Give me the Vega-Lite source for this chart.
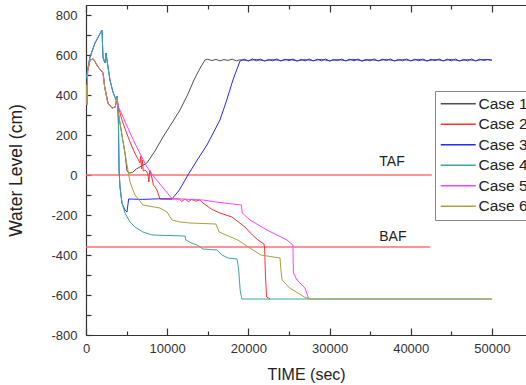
{
  "$schema": "https://vega.github.io/schema/vega-lite/v6.json",
  "autosize": {"type": "none"},
  "width": 440,
  "height": 330,
  "padding": {"left": 86, "top": 5, "right": 0, "bottom": 50},
  "background": "white",
  "config": {
    "view": {"stroke": null},
    "font": "Liberation Sans",
    "axis": {"labelFont": "Liberation Sans", "titleFont": "Liberation Sans", "labelColor": "#333", "titleColor": "#222", "domainColor": "#333", "tickColor": "#333", "labelFontSize": 13, "titleFontSize": 16, "titleFontWeight": "normal", "grid": false, "domainWidth": 1.2, "tickWidth": 1.2},
    "legend": {"labelFont": "Liberation Sans"}
  },
  "datasets": {
    "cases": [
      {"c":"Case 1","t":0,"v":380},{"c":"Case 1","t":60,"v":450},{"c":"Case 1","t":120,"v":350},{"c":"Case 1","t":200,"v":520},{"c":"Case 1","t":500,"v":575},{"c":"Case 1","t":900,"v":580},{"c":"Case 1","t":1500,"v":540},{"c":"Case 1","t":2100,"v":510},{"c":"Case 1","t":2300,"v":440},{"c":"Case 1","t":2700,"v":360},{"c":"Case 1","t":3200,"v":335},{"c":"Case 1","t":3600,"v":340},{"c":"Case 1","t":3800,"v":385},{"c":"Case 1","t":3950,"v":325},{"c":"Case 1","t":4100,"v":280},{"c":"Case 1","t":4800,"v":110},{"c":"Case 1","t":5050,"v":20},{"c":"Case 1","t":5300,"v":10},{"c":"Case 1","t":5700,"v":12},{"c":"Case 1","t":6200,"v":30},{"c":"Case 1","t":7500,"v":60},{"c":"Case 1","t":8500,"v":120},{"c":"Case 1","t":9480,"v":190},{"c":"Case 1","t":10500,"v":255},{"c":"Case 1","t":11580,"v":325},{"c":"Case 1","t":12500,"v":400},{"c":"Case 1","t":13300,"v":475},{"c":"Case 1","t":14000,"v":530},{"c":"Case 1","t":14650,"v":575},{"c":"Case 1","t":15000,"v":579},{"c":"Case 1","t":15500,"v":572},{"c":"Case 1","t":16000,"v":578},{"c":"Case 1","t":16500,"v":571},{"c":"Case 1","t":17000,"v":577},{"c":"Case 1","t":17500,"v":573},{"c":"Case 1","t":18000,"v":579},{"c":"Case 1","t":18500,"v":571},{"c":"Case 1","t":19000,"v":576},{"c":"Case 1","t":20000,"v":572},{"c":"Case 1","t":21000,"v":578},{"c":"Case 1","t":22000,"v":571},{"c":"Case 1","t":23000,"v":577},{"c":"Case 1","t":24000,"v":572},{"c":"Case 1","t":25000,"v":578},{"c":"Case 1","t":26000,"v":571},{"c":"Case 1","t":27000,"v":577},{"c":"Case 1","t":28000,"v":572},{"c":"Case 1","t":29000,"v":578},{"c":"Case 1","t":30000,"v":571},{"c":"Case 1","t":31000,"v":577},{"c":"Case 1","t":32000,"v":572},{"c":"Case 1","t":33000,"v":578},{"c":"Case 1","t":34000,"v":571},{"c":"Case 1","t":35000,"v":577},{"c":"Case 1","t":36000,"v":572},{"c":"Case 1","t":37000,"v":578},{"c":"Case 1","t":38000,"v":571},{"c":"Case 1","t":39000,"v":577},{"c":"Case 1","t":40000,"v":572},{"c":"Case 1","t":41000,"v":578},{"c":"Case 1","t":42000,"v":571},{"c":"Case 1","t":43000,"v":577},{"c":"Case 1","t":44000,"v":572},{"c":"Case 1","t":45000,"v":578},{"c":"Case 1","t":46000,"v":571},{"c":"Case 1","t":47000,"v":577},{"c":"Case 1","t":48000,"v":572},{"c":"Case 1","t":49000,"v":578},{"c":"Case 1","t":50000,"v":574},

      {"c":"Case 2","t":0,"v":380},{"c":"Case 2","t":60,"v":450},{"c":"Case 2","t":120,"v":350},{"c":"Case 2","t":200,"v":520},{"c":"Case 2","t":500,"v":575},{"c":"Case 2","t":900,"v":580},{"c":"Case 2","t":1500,"v":540},{"c":"Case 2","t":2100,"v":510},{"c":"Case 2","t":2300,"v":440},{"c":"Case 2","t":2700,"v":360},{"c":"Case 2","t":3200,"v":335},{"c":"Case 2","t":3600,"v":340},{"c":"Case 2","t":3800,"v":385},{"c":"Case 2","t":3950,"v":345},{"c":"Case 2","t":4430,"v":275},{"c":"Case 2","t":5000,"v":210},{"c":"Case 2","t":5420,"v":165},{"c":"Case 2","t":6000,"v":110},{"c":"Case 2","t":6400,"v":80},{"c":"Case 2","t":6650,"v":60},{"c":"Case 2","t":6750,"v":95},{"c":"Case 2","t":6850,"v":30},{"c":"Case 2","t":6950,"v":75},{"c":"Case 2","t":7050,"v":20},{"c":"Case 2","t":7270,"v":25},{"c":"Case 2","t":7600,"v":10},{"c":"Case 2","t":7750,"v":-35},{"c":"Case 2","t":7850,"v":25},{"c":"Case 2","t":8130,"v":-15},{"c":"Case 2","t":8300,"v":-50},{"c":"Case 2","t":8500,"v":-60},{"c":"Case 2","t":8740,"v":-75},{"c":"Case 2","t":9110,"v":-120},{"c":"Case 2","t":11500,"v":-120},{"c":"Case 2","t":11800,"v":-132},{"c":"Case 2","t":12200,"v":-120},{"c":"Case 2","t":12600,"v":-133},{"c":"Case 2","t":13000,"v":-122},{"c":"Case 2","t":13500,"v":-131},{"c":"Case 2","t":14000,"v":-124},{"c":"Case 2","t":14410,"v":-140},{"c":"Case 2","t":15500,"v":-172},{"c":"Case 2","t":16500,"v":-190},{"c":"Case 2","t":17980,"v":-210},{"c":"Case 2","t":19580,"v":-260},{"c":"Case 2","t":20500,"v":-300},{"c":"Case 2","t":21180,"v":-325},{"c":"Case 2","t":21920,"v":-345},{"c":"Case 2","t":22000,"v":-360},{"c":"Case 2","t":22100,"v":-500},{"c":"Case 2","t":22250,"v":-610},{"c":"Case 2","t":22700,"v":-620},

      {"c":"Case 3","t":0,"v":480},{"c":"Case 3","t":490,"v":590},{"c":"Case 3","t":1110,"v":660},{"c":"Case 3","t":1970,"v":725},{"c":"Case 3","t":2100,"v":585},{"c":"Case 3","t":2340,"v":560},{"c":"Case 3","t":2460,"v":610},{"c":"Case 3","t":2950,"v":475},{"c":"Case 3","t":3320,"v":415},{"c":"Case 3","t":3700,"v":375},{"c":"Case 3","t":3850,"v":395},{"c":"Case 3","t":3940,"v":330},{"c":"Case 3","t":4000,"v":250},{"c":"Case 3","t":4070,"v":25},{"c":"Case 3","t":4190,"v":-60},{"c":"Case 3","t":4430,"v":-140},{"c":"Case 3","t":4800,"v":-175},{"c":"Case 3","t":5050,"v":-185},{"c":"Case 3","t":5250,"v":-120},{"c":"Case 3","t":7000,"v":-122},{"c":"Case 3","t":9000,"v":-119},{"c":"Case 3","t":10590,"v":-120},{"c":"Case 3","t":11500,"v":-75},{"c":"Case 3","t":12560,"v":0},{"c":"Case 3","t":13700,"v":75},{"c":"Case 3","t":14900,"v":150},{"c":"Case 3","t":16500,"v":275},{"c":"Case 3","t":17300,"v":370},{"c":"Case 3","t":18100,"v":475},{"c":"Case 3","t":18970,"v":570},{"c":"Case 3","t":19500,"v":579},{"c":"Case 3","t":20000,"v":570},{"c":"Case 3","t":20500,"v":580},{"c":"Case 3","t":21000,"v":571},{"c":"Case 3","t":21500,"v":579},{"c":"Case 3","t":22000,"v":570},{"c":"Case 3","t":22500,"v":578},{"c":"Case 3","t":23000,"v":571},{"c":"Case 3","t":23500,"v":580},{"c":"Case 3","t":24000,"v":570},{"c":"Case 3","t":24500,"v":579},{"c":"Case 3","t":25000,"v":572},{"c":"Case 3","t":25500,"v":580},{"c":"Case 3","t":26000,"v":570},{"c":"Case 3","t":26500,"v":578},{"c":"Case 3","t":27000,"v":571},{"c":"Case 3","t":27500,"v":580},{"c":"Case 3","t":28000,"v":570},{"c":"Case 3","t":28500,"v":579},{"c":"Case 3","t":29000,"v":571},{"c":"Case 3","t":29500,"v":580},{"c":"Case 3","t":30000,"v":570},{"c":"Case 3","t":30500,"v":578},{"c":"Case 3","t":31000,"v":572},{"c":"Case 3","t":31500,"v":580},{"c":"Case 3","t":32000,"v":570},{"c":"Case 3","t":32500,"v":579},{"c":"Case 3","t":33000,"v":571},{"c":"Case 3","t":33500,"v":580},{"c":"Case 3","t":34000,"v":570},{"c":"Case 3","t":34500,"v":578},{"c":"Case 3","t":35000,"v":571},{"c":"Case 3","t":35500,"v":580},{"c":"Case 3","t":36000,"v":570},{"c":"Case 3","t":36500,"v":579},{"c":"Case 3","t":37000,"v":572},{"c":"Case 3","t":37500,"v":580},{"c":"Case 3","t":38000,"v":570},{"c":"Case 3","t":38500,"v":578},{"c":"Case 3","t":39000,"v":571},{"c":"Case 3","t":39500,"v":580},{"c":"Case 3","t":40000,"v":570},{"c":"Case 3","t":40500,"v":579},{"c":"Case 3","t":41000,"v":571},{"c":"Case 3","t":41500,"v":580},{"c":"Case 3","t":42000,"v":570},{"c":"Case 3","t":42500,"v":578},{"c":"Case 3","t":43000,"v":572},{"c":"Case 3","t":43500,"v":580},{"c":"Case 3","t":44000,"v":570},{"c":"Case 3","t":44500,"v":579},{"c":"Case 3","t":45000,"v":571},{"c":"Case 3","t":45500,"v":580},{"c":"Case 3","t":46000,"v":570},{"c":"Case 3","t":46500,"v":578},{"c":"Case 3","t":47000,"v":571},{"c":"Case 3","t":47500,"v":580},{"c":"Case 3","t":48000,"v":570},{"c":"Case 3","t":48500,"v":579},{"c":"Case 3","t":49000,"v":572},{"c":"Case 3","t":49500,"v":578},{"c":"Case 3","t":50000,"v":574},

      {"c":"Case 4","t":0,"v":480},{"c":"Case 4","t":490,"v":590},{"c":"Case 4","t":1110,"v":660},{"c":"Case 4","t":1970,"v":725},{"c":"Case 4","t":2100,"v":585},{"c":"Case 4","t":2340,"v":560},{"c":"Case 4","t":2460,"v":610},{"c":"Case 4","t":2950,"v":475},{"c":"Case 4","t":3320,"v":415},{"c":"Case 4","t":3700,"v":375},{"c":"Case 4","t":3850,"v":395},{"c":"Case 4","t":3940,"v":330},{"c":"Case 4","t":4000,"v":250},{"c":"Case 4","t":4070,"v":25},{"c":"Case 4","t":4190,"v":-60},{"c":"Case 4","t":4430,"v":-140},{"c":"Case 4","t":4800,"v":-190},{"c":"Case 4","t":5420,"v":-235},{"c":"Case 4","t":6030,"v":-260},{"c":"Case 4","t":7020,"v":-285},{"c":"Case 4","t":8130,"v":-300},{"c":"Case 4","t":9730,"v":-302},{"c":"Case 4","t":12190,"v":-305},{"c":"Case 4","t":12300,"v":-325},{"c":"Case 4","t":13000,"v":-340},{"c":"Case 4","t":13670,"v":-350},{"c":"Case 4","t":14410,"v":-370},{"c":"Case 4","t":16130,"v":-375},{"c":"Case 4","t":16750,"v":-400},{"c":"Case 4","t":17490,"v":-415},{"c":"Case 4","t":18600,"v":-420},{"c":"Case 4","t":18800,"v":-470},{"c":"Case 4","t":19000,"v":-580},{"c":"Case 4","t":19210,"v":-620},{"c":"Case 4","t":50000,"v":-620},

      {"c":"Case 5","t":0,"v":380},{"c":"Case 5","t":60,"v":450},{"c":"Case 5","t":120,"v":350},{"c":"Case 5","t":200,"v":520},{"c":"Case 5","t":500,"v":575},{"c":"Case 5","t":900,"v":580},{"c":"Case 5","t":1500,"v":540},{"c":"Case 5","t":2100,"v":510},{"c":"Case 5","t":2300,"v":440},{"c":"Case 5","t":2700,"v":360},{"c":"Case 5","t":3200,"v":335},{"c":"Case 5","t":3600,"v":340},{"c":"Case 5","t":3800,"v":385},{"c":"Case 5","t":3950,"v":345},{"c":"Case 5","t":5000,"v":250},{"c":"Case 5","t":6000,"v":160},{"c":"Case 5","t":7000,"v":80},{"c":"Case 5","t":7510,"v":40},{"c":"Case 5","t":8500,"v":-15},{"c":"Case 5","t":9500,"v":-65},{"c":"Case 5","t":10590,"v":-118},{"c":"Case 5","t":14410,"v":-125},{"c":"Case 5","t":16000,"v":-135},{"c":"Case 5","t":19150,"v":-150},{"c":"Case 5","t":19250,"v":-190},{"c":"Case 5","t":20200,"v":-225},{"c":"Case 5","t":22290,"v":-275},{"c":"Case 5","t":24750,"v":-325},{"c":"Case 5","t":25490,"v":-350},{"c":"Case 5","t":25550,"v":-490},{"c":"Case 5","t":25980,"v":-525},{"c":"Case 5","t":26970,"v":-565},{"c":"Case 5","t":27400,"v":-615},{"c":"Case 5","t":27600,"v":-620},

      {"c":"Case 6","t":0,"v":380},{"c":"Case 6","t":60,"v":450},{"c":"Case 6","t":120,"v":350},{"c":"Case 6","t":200,"v":520},{"c":"Case 6","t":500,"v":575},{"c":"Case 6","t":900,"v":580},{"c":"Case 6","t":1500,"v":540},{"c":"Case 6","t":2100,"v":510},{"c":"Case 6","t":2300,"v":440},{"c":"Case 6","t":2700,"v":360},{"c":"Case 6","t":3200,"v":335},{"c":"Case 6","t":3600,"v":340},{"c":"Case 6","t":3800,"v":385},{"c":"Case 6","t":3950,"v":325},{"c":"Case 6","t":4100,"v":280},{"c":"Case 6","t":4800,"v":110},{"c":"Case 6","t":5420,"v":-35},{"c":"Case 6","t":6030,"v":-100},{"c":"Case 6","t":7020,"v":-150},{"c":"Case 6","t":9100,"v":-165},{"c":"Case 6","t":9980,"v":-185},{"c":"Case 6","t":10590,"v":-225},{"c":"Case 6","t":11580,"v":-235},{"c":"Case 6","t":12800,"v":-240},{"c":"Case 6","t":16000,"v":-245},{"c":"Case 6","t":16400,"v":-285},{"c":"Case 6","t":18700,"v":-325},{"c":"Case 6","t":20000,"v":-360},{"c":"Case 6","t":21550,"v":-400},{"c":"Case 6","t":23900,"v":-415},{"c":"Case 6","t":24000,"v":-470},{"c":"Case 6","t":24150,"v":-525},{"c":"Case 6","t":25100,"v":-565},{"c":"Case 6","t":26900,"v":-610},{"c":"Case 6","t":27600,"v":-620},{"c":"Case 6","t":50000,"v":-620}
    ],
    "refs": [
      {"g":"TAF","t":0,"v":0},{"g":"TAF","t":42600,"v":0},
      {"g":"BAF","t":0,"v":-360},{"g":"BAF","t":42400,"v":-360}
    ],
    "labels": [
      {"t":37700,"v":65,"label":"TAF"},
      {"t":37800,"v":-310,"label":"BAF"}
    ]
  },
  "resolve": {"axis": {"x": "independent"}},
  "layer": [
    {
      "data": {"name": "refs"},
      "mark": {"type": "line", "color": "#ff7070", "strokeWidth": 1.3, "clip": true},
      "encoding": {
        "x": {"field": "t", "type": "quantitative", "scale": {"domain": [0, 54200], "nice": false, "zero": false}, "axis": null},
        "y": {"field": "v", "type": "quantitative", "scale": {"domain": [-800, 850], "nice": false, "zero": false},
          "axis": {"title": "Water Level (cm)", "titleFontSize": 17.5, "values": [-800,-700,-600,-500,-400,-300,-200,-100,0,100,200,300,400,500,600,700,800],
            "labelExpr": "datum.value % 200 === 0 ? datum.value : ''",
            "tickSize": -5,
            "labelPadding": 14, "titlePadding": 25}},
        "detail": {"field": "g"}
      }
    },
    {
      "data": {"name": "cases"},
      "mark": {"type": "line", "strokeWidth": 1, "clip": true},
      "encoding": {
        "x": {"field": "t", "type": "quantitative", "scale": {"domain": [0, 54200], "nice": false, "zero": false},
          "axis": {"orient": "bottom", "title": "TIME (sec)", "values": [0,5000,10000,15000,20000,25000,30000,35000,40000,45000,50000],
            "labelExpr": "datum.value % 10000 === 0 ? datum.value : ''",
            "tickSize": {"condition": {"test": "datum.value % 10000 === 0", "value": -7}, "value": -4},
            "labelPadding": 14, "titlePadding": 11, "labelFlush": false}},
        "y": {"field": "v", "type": "quantitative", "scale": {"domain": [-800, 850], "nice": false, "zero": false},
          "axis": {"title": "Water Level (cm)", "titleFontSize": 17.5, "values": [-800,-700,-600,-500,-400,-300,-200,-100,0,100,200,300,400,500,600,700,800],
            "labelExpr": "datum.value % 200 === 0 ? datum.value : ''",
            "tickSize": -5,
            "labelPadding": 14, "titlePadding": 25}},
        "color": {"field": "c", "type": "nominal",
          "scale": {"domain": ["Case 1","Case 2","Case 3","Case 4","Case 5","Case 6"], "range": ["#505050","#ff3030","#2828ff","#3aa8a0","#ff40ff","#a8a040"]},
          "legend": {"title": null, "orient": "none", "legendX": 349, "legendY": 86, "symbolType": "M-1.4,0H5.6", "symbolSize": 100, "symbolStrokeWidth": 1.5,
            "labelFontSize": 15.5, "labelColor": "#222", "strokeColor": "#888", "padding": 5, "rowPadding": 3.5, "labelOffset": 23, "fillColor": "white"}}
      }
    },
    {
      "data": {"name": "labels"},
      "mark": {"type": "text", "fontSize": 14, "color": "#222", "font": "Liberation Sans"},
      "encoding": {
        "x": {"field": "t", "type": "quantitative", "scale": {"domain": [0, 54200], "nice": false, "zero": false},
          "axis": {"orient": "top", "title": null, "labels": false, "values": [0,5000,10000,15000,20000,25000,30000,35000,40000,45000,50000],
            "tickSize": {"condition": {"test": "datum.value % 10000 === 0", "value": -7}, "value": -4}}},
        "y": {"field": "v", "type": "quantitative", "scale": {"domain": [-800, 850], "nice": false, "zero": false},
          "axis": {"title": "Water Level (cm)", "titleFontSize": 17.5, "values": [-800,-700,-600,-500,-400,-300,-200,-100,0,100,200,300,400,500,600,700,800],
            "labelExpr": "datum.value % 200 === 0 ? datum.value : ''",
            "tickSize": -5,
            "labelPadding": 14, "titlePadding": 25}},
        "text": {"field": "label"}
      }
    }
  ]
}
